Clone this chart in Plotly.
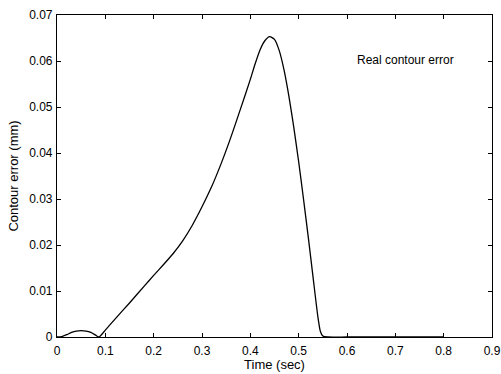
import plotly.graph_objects as go

time_sec = [0, 0.01, 0.02, 0.03, 0.04, 0.05, 0.06, 0.07, 0.08, 0.087, 0.1, 0.12, 0.15,
            0.18, 0.2, 0.22, 0.24, 0.26, 0.28, 0.3, 0.32, 0.34, 0.36, 0.38, 0.4, 0.41,
            0.42, 0.43, 0.44, 0.45, 0.46, 0.47, 0.48, 0.49, 0.5, 0.51,
            0.52, 0.53, 0.54, 0.545, 0.55, 0.56, 0.6, 0.7, 0.8]
contour_err = [0, 0.0001, 0.0005, 0.001, 0.0013, 0.0014, 0.0013, 0.001, 0.0004, 0, 0.0015,
               0.0039, 0.0074, 0.011, 0.0134, 0.0157, 0.0181, 0.0209, 0.0243, 0.0283, 0.0327,
               0.0378, 0.0435, 0.0497, 0.0560, 0.0594, 0.0624, 0.0644, 0.0653, 0.0647, 0.0622,
               0.0579, 0.0522, 0.0455, 0.0381, 0.0300, 0.0216, 0.0128, 0.0042, 0.0012,
               0.0002, 0, 0, 0, 0]

x_ticks = [0, 0.1, 0.2, 0.3, 0.4, 0.5, 0.6, 0.7, 0.8, 0.9]
x_labels = ["0", "0.1", "0.2", "0.3", "0.4", "0.5", "0.6", "0.7", "0.8", "0.9"]
y_ticks = [0, 0.01, 0.02, 0.03, 0.04, 0.05, 0.06, 0.07]
y_labels = ["0", "0.01", "0.02", "0.03", "0.04", "0.05", "0.06", "0.07"]

fig = go.Figure()
fig.add_trace(go.Scatter(x=time_sec, y=contour_err, mode="lines",
                         line=dict(color="black", width=1.3, shape="spline", smoothing=0.6),
                         showlegend=False))

axis_common = dict(showline=True, linecolor="black", linewidth=1.2, mirror="ticks",
                   ticks="inside", ticklen=4, tickcolor="black", showgrid=False,
                   zeroline=False, tickfont=dict(size=12, color="black"), automargin=False)

fig.update_xaxes(range=[0, 0.9], tickvals=x_ticks, ticktext=x_labels, ticklabelstandoff=2,
                 title=dict(text="Time (sec)", font=dict(size=13, color="black"), standoff=2),
                 **axis_common)
fig.update_yaxes(range=[0, 0.07], tickvals=y_ticks, ticktext=y_labels, ticklabelstandoff=1,
                 title=dict(text="Contour error (mm)", font=dict(size=13, color="black"), standoff=7),
                 **axis_common)

fig.add_annotation(x=0.72, y=0.0602, text="Real contour error", showarrow=False,
                   font=dict(size=12, color="black"))

fig.update_layout(width=501, height=374, margin=dict(l=57, r=9, t=15, b=37),
                  plot_bgcolor="white", paper_bgcolor="white",
                  font=dict(family="Liberation Sans, Arial, sans-serif", size=12, color="black"))

fig.write_html("out.html")
